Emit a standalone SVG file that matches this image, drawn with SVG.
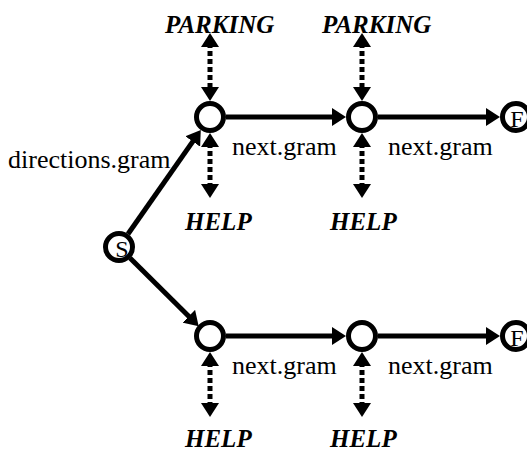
<svg xmlns="http://www.w3.org/2000/svg" width="527" height="451" viewBox="0 0 527 451">
<style>
.node{fill:#fff;stroke:#000;stroke-width:5}
.edge{stroke:#000;stroke-width:5;fill:none}
.dot{stroke:#000;stroke-width:5;fill:none;stroke-dasharray:5 3}
text{fill:#000}
.lbl{font-size:26px}
.kw{font-size:25px;font-weight:bold;font-style:italic}
.in{font-size:24px;text-anchor:middle}
</style>
<defs>
<marker id="ah" viewBox="0 0 14 18" refX="6" refY="9" markerWidth="14" markerHeight="18" markerUnits="userSpaceOnUse" orient="auto">
<path d="M0,0 L14,9 L0,18 z" fill="#000"/>
</marker>
<marker id="dh" viewBox="0 0 14 18" refX="4" refY="9" markerWidth="14" markerHeight="18" markerUnits="userSpaceOnUse" orient="auto-start-reverse">
<path d="M0,0 L14,9 L0,18 z" fill="#000"/>
</marker>
</defs>
<g id="connectors" font-family="Liberation Serif, Times New Roman, serif">
<line class="edge" x1="128" y1="234" x2="196.2" y2="136.6" marker-end="url(#ah)"/>
<line class="edge" x1="130" y1="258" x2="193" y2="320.5" marker-end="url(#ah)"/>
<line class="edge" x1="226" y1="117" x2="338" y2="117" marker-end="url(#ah)"/>
<line class="edge" x1="378" y1="117" x2="492" y2="117" marker-end="url(#ah)"/>
<line class="edge" x1="226" y1="336" x2="338" y2="336" marker-end="url(#ah)"/>
<line class="edge" x1="378" y1="336" x2="492" y2="336" marker-end="url(#ah)"/>
<line class="dot" x1="210" y1="43" x2="210" y2="91" marker-start="url(#dh)" marker-end="url(#dh)"/>
<line class="dot" x1="210" y1="143" x2="210" y2="188" marker-start="url(#dh)" marker-end="url(#dh)"/>
<line class="dot" x1="362" y1="43" x2="362" y2="91" marker-start="url(#dh)" marker-end="url(#dh)"/>
<line class="dot" x1="362" y1="143" x2="362" y2="188" marker-start="url(#dh)" marker-end="url(#dh)"/>
<line class="dot" x1="210" y1="362" x2="210" y2="407" marker-start="url(#dh)" marker-end="url(#dh)"/>
<line class="dot" x1="362" y1="362" x2="362" y2="407" marker-start="url(#dh)" marker-end="url(#dh)"/>
<text class="lbl" font-family="Liberation Serif, Times New Roman, serif" x="8" y="168">directions.gram</text>
<text class="lbl" font-family="Liberation Serif, Times New Roman, serif" x="232" y="155">next.gram</text>
<text class="lbl" font-family="Liberation Serif, Times New Roman, serif" x="388" y="155">next.gram</text>
<text class="lbl" font-family="Liberation Serif, Times New Roman, serif" x="232" y="374">next.gram</text>
<text class="lbl" font-family="Liberation Serif, Times New Roman, serif" x="388" y="374">next.gram</text>
</g>
<g id="kw-parking-1"><text class="kw" font-family="Liberation Serif, Times New Roman, serif" x="165" y="33">PARKING</text></g>
<g id="kw-parking-2"><text class="kw" font-family="Liberation Serif, Times New Roman, serif" x="322" y="33">PARKING</text></g>
<g id="kw-help-1"><text class="kw" font-family="Liberation Serif, Times New Roman, serif" x="185" y="230">HELP</text></g>
<g id="kw-help-2"><text class="kw" font-family="Liberation Serif, Times New Roman, serif" x="330" y="230">HELP</text></g>
<g id="kw-help-3"><text class="kw" font-family="Liberation Serif, Times New Roman, serif" x="185" y="447">HELP</text></g>
<g id="kw-help-4"><text class="kw" font-family="Liberation Serif, Times New Roman, serif" x="330" y="447">HELP</text></g>
<g id="node-S"><circle class="node" cx="119" cy="247" r="13.5"/><text class="in" font-family="Liberation Serif, Times New Roman, serif" x="122" y="257">S</text></g>
<g id="node-a1"><circle class="node" cx="210" cy="117" r="13.5"/></g>
<g id="node-a2"><circle class="node" cx="362" cy="117" r="13.5"/></g>
<g id="node-F1"><circle class="node" cx="516" cy="117" r="13.5"/><text class="in" font-family="Liberation Serif, Times New Roman, serif" x="517" y="127">F</text></g>
<g id="node-b1"><circle class="node" cx="210" cy="336" r="13.5"/></g>
<g id="node-b2"><circle class="node" cx="362" cy="336" r="13.5"/></g>
<g id="node-F2"><circle class="node" cx="516" cy="336" r="13.5"/><text class="in" font-family="Liberation Serif, Times New Roman, serif" x="517" y="346">F</text></g>
</svg>
